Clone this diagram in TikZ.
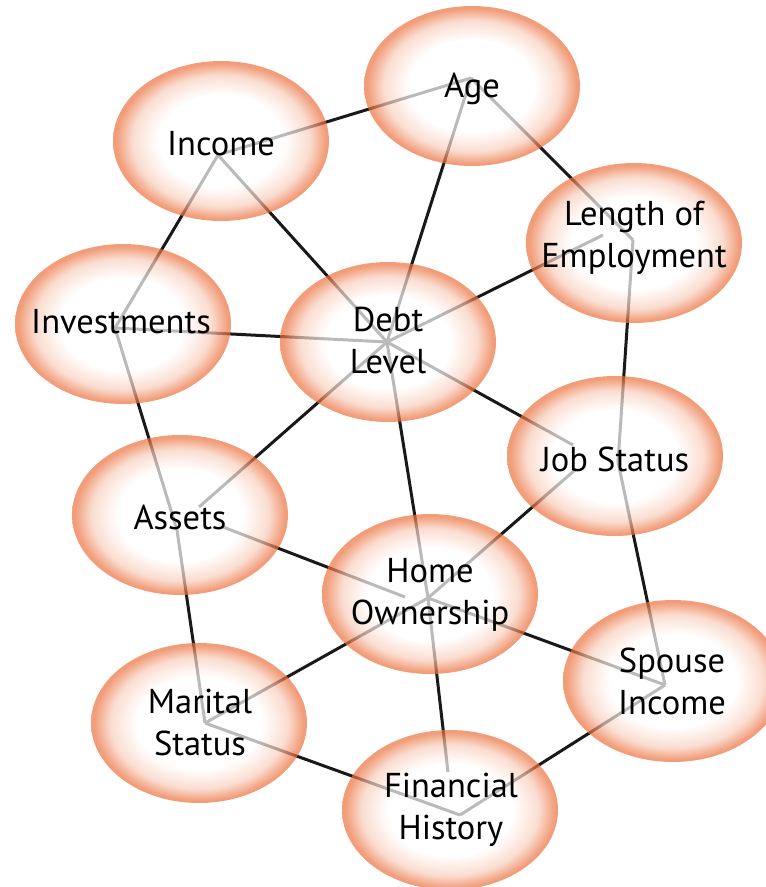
\documentclass[tikz,border=0pt]{standalone}
\usepackage{fontspec}
\setmainfont{PT Sans}
\usetikzlibrary{shapes.geometric}
\definecolor{rimorange}{RGB}{236,116,66}
\colorlet{midorange}{rimorange!35}
\pgfdeclareradialshading{bubble}{\pgfpoint{0bp}{0bp}}{color(0bp)=(white); color(14.5bp)=(white); color(20.5bp)=(midorange); color(24.3bp)=(rimorange); color(50bp)=(rimorange)}

\begin{document}
\begin{tikzpicture}[x=1pt,y=-1pt,
  bubble/.style={ellipse,minimum width=216pt,minimum height=160pt,inner sep=0pt,shade,shading=bubble,fill opacity=0.7},
  tag/.style={align=center,font=\fontsize{34.5}{42}\selectfont,text=black},
  link/.style={line width=3pt,black!90}]
  \useasboundingbox (0,0) rectangle (766,887);
  \clip (0,0) rectangle (766,887);

  % Hubs where the links meet
  \coordinate (age-h) at (471,78);
  \coordinate (inc-h) at (218,155);
  \coordinate (inv-h) at (115,328);
  \coordinate (debt-h) at (387,342);
  \coordinate (len-h) at (633,240);
  \coordinate (len-d) at (603,235);
  \coordinate (job-h) at (618,462);
  \coordinate (job-d) at (573,445);
  \coordinate (job-o) at (575,470);
  \coordinate (ast-h) at (177,530);
  \coordinate (ast-d) at (199,507);
  \coordinate (ast-o) at (223,527);
  \coordinate (home-h) at (428,598);
  \coordinate (home-a) at (405,597);
  \coordinate (mar-h) at (205,723);
  \coordinate (sp-h) at (665,685);
  \coordinate (fin-h) at (448,772);
  \coordinate (fin-m) at (460,815);

  % Draw links
  \draw[link] (inc-h) -- (age-h) (inc-h) -- (inv-h) (inc-h) -- (debt-h);
  \draw[link] (age-h) -- (debt-h) (age-h) -- (len-h);
  \draw[link] (len-d) -- (debt-h) (len-h) -- (job-h);
  \draw[link] (inv-h) -- (debt-h) (inv-h) -- (ast-h);
  \draw[link] (ast-h) -- (mar-h) (ast-d) -- (debt-h) (ast-o) -- (home-a);
  \draw[link] (debt-h) -- (job-d) (debt-h) -- (home-h);
  \draw[link] (job-h) -- (sp-h) (job-o) -- (home-h);
  \draw[link] (home-h) -- (mar-h) (home-h) -- (sp-h) (home-h) -- (fin-h);
  \draw[link] (mar-h) -- (fin-m) (fin-m) -- (sp-h);

  % Draw bubbles
  \node[bubble] (age) at (472,86) {};
  \node[bubble] (inc) at (221,141) {};
  \node[bubble] (inv) at (123,324) {};
  \node[bubble] (debt) at (388,342) {};
  \node[bubble] (len) at (634,243) {};
  \node[bubble] (job) at (615,456) {};
  \node[bubble] (ast) at (180,515) {};
  \node[bubble] (home) at (430,594) {};
  \node[bubble] (mar) at (199,723) {};
  \node[bubble,minimum width=220pt,minimum height=162pt] (sp) at (673,681) {};
  \node[bubble] (fin) at (450,810) {};

  % Label bubbles
  \node[tag] at (472,89) {Age};
  \node[tag] at (221,144) {Income};
  \node[tag] at (121,322) {Investments};
  \node[tag] at (388,340) {Debt\\Level};
  \node[tag] at (634,238) {Length of\\Employment};
  \node[tag] at (615,459) {Job Status};
  \node[tag] at (180,517) {Assets};
  \node[tag] at (430,595) {Home\\Ownership};
  \node[tag] at (200,722) {Marital\\Status};
  \node[tag] at (672,681) {Spouse\\Income};
  \node[tag] at (451,810) {Financial\\History};
\end{tikzpicture}
\end{document}
